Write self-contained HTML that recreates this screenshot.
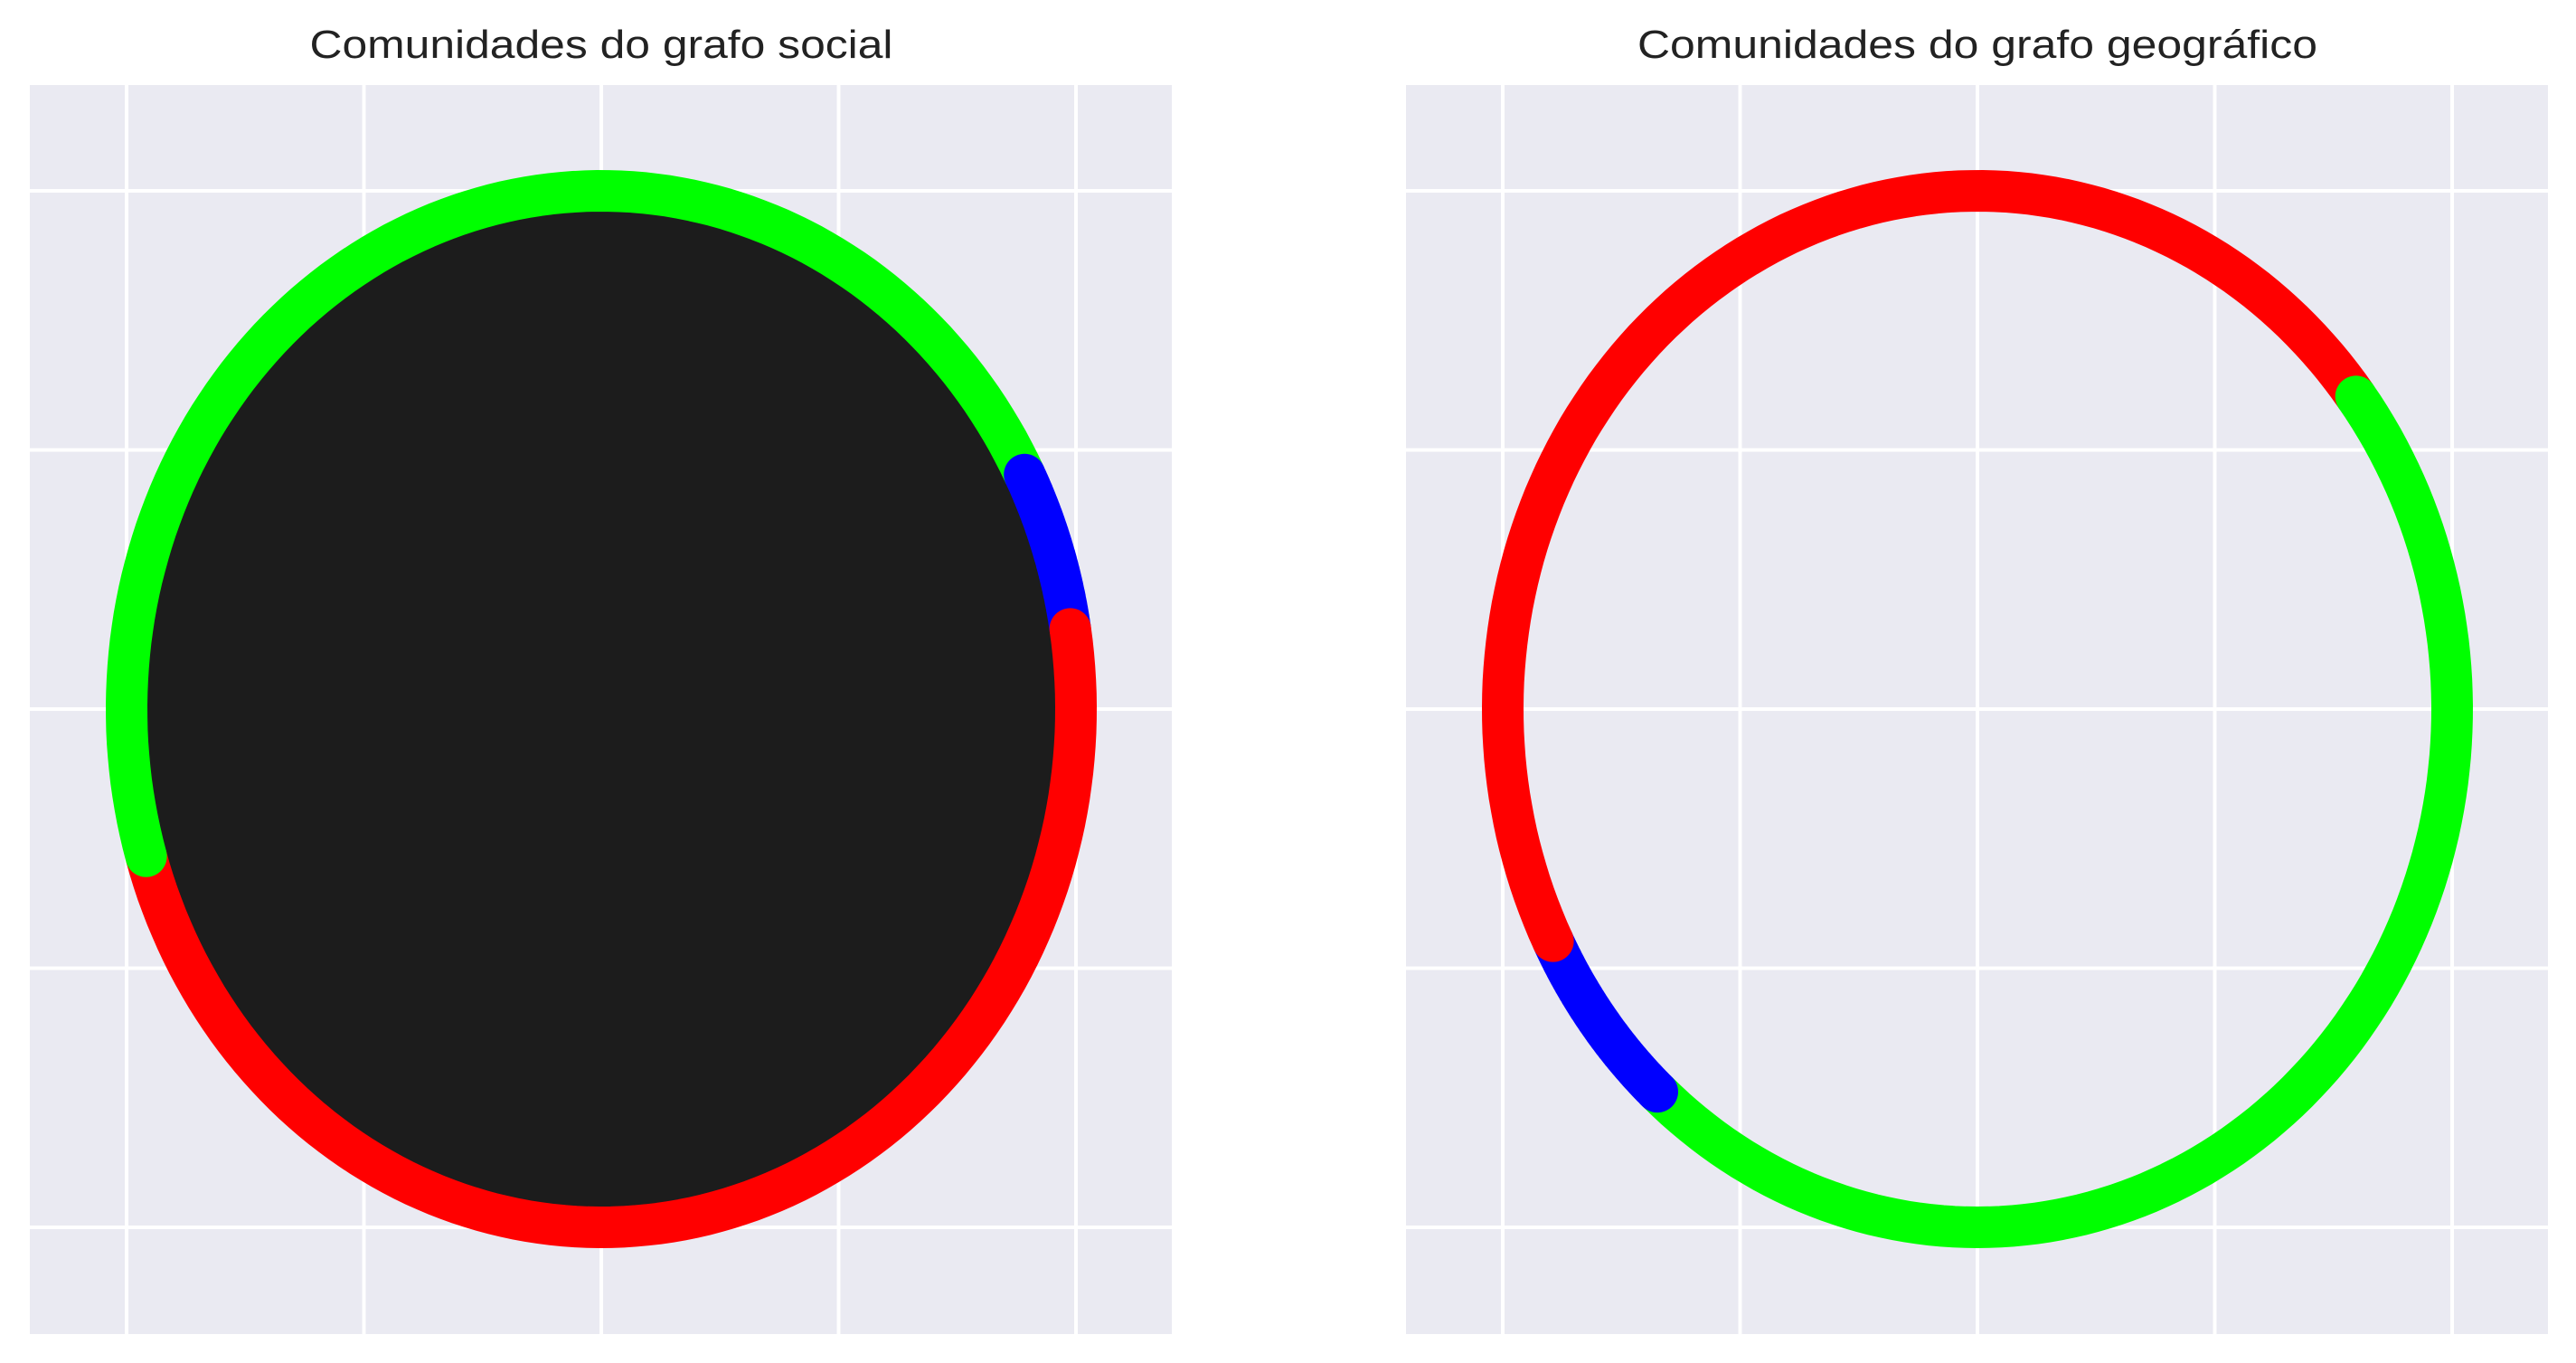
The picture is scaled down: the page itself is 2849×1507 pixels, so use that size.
<!DOCTYPE html>
<html><head><meta charset="utf-8"><style>
html,body{margin:0;padding:0;background:#fff;}
svg{display:block;}
</style></head><body>
<svg id="fig" width="2849" height="1507" viewBox="0 0 2849 1507" xmlns="http://www.w3.org/2000/svg"></svg>
<script>
// data: tick values and community arc segments (angles in degrees, counter-clockwise from +x)
const tickValues = [-1, -0.5, 0, 0.5, 1];
const socialSegStart = [8.9, 26.9, 196.5];
const socialSegEnd = [196.5 - 360, 8.9, 26.9];
const socialColors = ['#ff0000', '#0000ff', '#00ff00'];
const socialNames = ['red', 'blue', 'green'];
const geoSegStart = [206.6, 227.6, 37.1];
const geoSegEnd = [37.1, 206.6, 227.6 - 360];
const geoColors = ['#ff0000', '#0000ff', '#00ff00'];
const geoNames = ['red', 'blue', 'green'];
const titles = ['Comunidades do grafo social', 'Comunidades do grafo geográfico'];

const NS = 'http://www.w3.org/2000/svg';
const svg = document.getElementById('fig');
function mk(tag, attrs, parent) {
  const e = document.createElementNS(NS, tag);
  for (const k in attrs) e.setAttribute(k, attrs[k]);
  (parent || svg).appendChild(e);
  return e;
}
const panels = [
  {x0: 33, cx: 665, segS: socialSegStart, segE: socialSegEnd, cols: socialColors, names: socialNames, dark: true, title: titles[0], tl: 645, key: 'social'},
  {x0: 1555, cx: 2187, segS: geoSegStart, segE: geoSegEnd, cols: geoColors, names: geoNames, dark: false, title: titles[1], tl: 752, key: 'geo'}
];
const y0 = 94, W = 1263, H = 1381, cy = 784, sx = 525, sy = 573;
panels.forEach((p, pi) => {
  const g = mk('g', {});
  
  
  const bg = mk('rect', {x: p.x0, y: y0, width: W, height: H, fill: '#eaeaf2'}, g);
  
  
  const X = v => p.cx + v * sx, Y = v => cy - v * sy;
  tickValues.forEach(t => {
    const vl = mk('line', {x1: X(t), x2: X(t), y1: y0, y2: y0 + H, stroke: '#fff', 'stroke-width': 4}, g);
    
    
    const hl = mk('line', {x1: p.x0, x2: p.x0 + W, y1: Y(t), y2: Y(t), stroke: '#fff', 'stroke-width': 4}, g);
    
    
  });
  if (p.dark) {
    const d = mk('ellipse', {cx: X(0), cy: Y(0), rx: sx, ry: sy, fill: '#1c1c1c'}, g);
    
    
  }
  const pt = a => { const r = a * Math.PI / 180; return [X(Math.cos(r)), Y(Math.sin(r))]; };
  p.segS.forEach((s, i) => {
    const e = p.segE[i];
    const n = 120; let d = '';
    for (let k = 0; k <= n; k++) {
      const a = s + (e - s) * k / n; const q = pt(a);
      d += (k ? 'L' : 'M') + q[0].toFixed(1) + ' ' + q[1].toFixed(1);
    }
    const path = mk('path', {d: d, fill: 'none', stroke: p.cols[i], 'stroke-width': 46}, g);
    
    
  });
  p.segS.forEach((s, i) => {
    const q = pt(s);
    const c = mk('circle', {cx: q[0], cy: q[1], r: 23, fill: p.cols[i]}, g);
    
    
  });
  const t = mk('text', {x: p.cx, y: 64, 'text-anchor': 'middle', 'font-family': 'Liberation Sans, DejaVu Sans, sans-serif', 'font-size': 44, fill: '#222', textLength: p.tl, lengthAdjust: 'spacingAndGlyphs'}, g);
  t.textContent = p.title;
  
  
});
</script>
</body></html>
